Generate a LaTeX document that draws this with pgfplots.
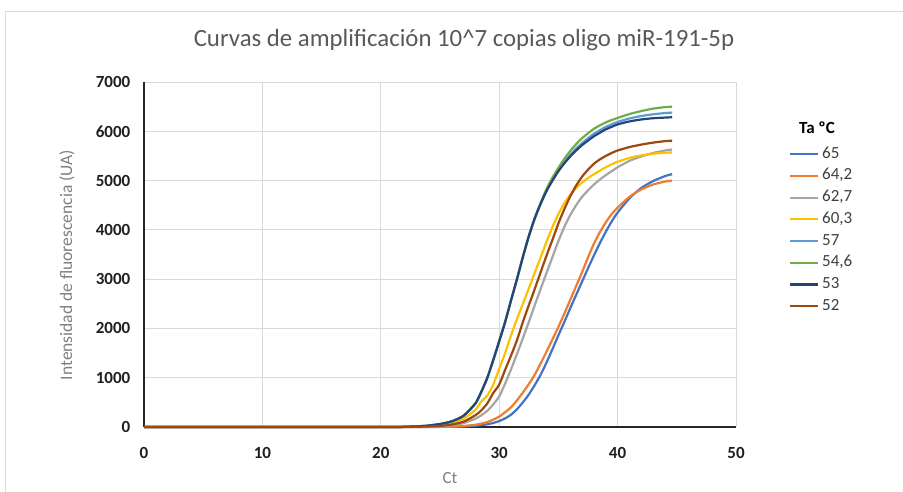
\documentclass[border=0pt]{standalone}
\usepackage{pgfplots}
\usepackage{pgfplotstable}
\pgfplotsset{compat=1.18}
\usepackage{fontspec}
\setmainfont{Carlito}
\definecolor{c65}{HTML}{4472C4}
\definecolor{c642}{HTML}{ED7D31}
\definecolor{c627}{HTML}{A5A5A5}
\definecolor{c603}{HTML}{FFC000}
\definecolor{c57}{HTML}{5B9BD5}
\definecolor{c546}{HTML}{70AD47}
\definecolor{c53}{HTML}{264478}
\definecolor{c52}{HTML}{9E480E}
\definecolor{gridc}{HTML}{D9D9D9}
\definecolor{framec}{HTML}{D9D9D9}
\definecolor{titlec}{HTML}{595959}
\definecolor{labelc}{HTML}{808080}
\definecolor{legc}{HTML}{404040}

\pgfplotstableread{
x    s65  s642 s627 s603 s57  s546 s53  s52
0    0    0    0    0    0    0    0    0
20   0    0    0    0    0    0    0    0
22   0    0    1    3    5    5    5    2
23   0    1    3    7    12   12   12   5
24   1    2    6    15   28   28   28   10
25   2    4    15   35   60   60   60   22
26   4    8    35   80   115  115  115  50
27   10   20   80   170  230  230  230  110
28   25   45   170  350  480  480  480  240
28.5 38   68   240  520  720  720  720  340
29   55   100  330  640  1000 1000 1000 480
29.5 82   150  460  860  1360 1360 1360 690
30   120  210  620  1180 1740 1740 1740 860
30.5 175  300  880  1500 2130 2130 2130 1160
31   250  400  1170 1860 2570 2570 2570 1450
31.5 360  540  1480 2190 3000 3000 3000 1760
32   500  700  1800 2500 3450 3450 3450 2130
32.5 660  870  2130 2810 3870 3870 3870 2470
33   850  1060 2470 3130 4230 4240 4230 2800
33.5 1060 1290 2800 3440 4530 4550 4530 3140
34   1310 1530 3130 3760 4800 4830 4790 3480
34.5 1580 1780 3450 4060 5010 5060 5000 3800
35   1860 2030 3770 4320 5210 5260 5190 4130
35.5 2130 2300 4060 4540 5380 5440 5350 4420
36   2410 2580 4300 4710 5520 5600 5490 4680
36.5 2680 2860 4500 4850 5650 5740 5610 4900
37   2950 3140 4670 4960 5760 5860 5720 5080
37.5 3220 3440 4800 5050 5860 5960 5810 5220
38   3480 3720 4920 5130 5950 6050 5900 5340
38.5 3730 3950 5020 5200 6020 6120 5970 5430
39   3960 4150 5110 5270 6090 6180 6040 5500
39.5 4170 4320 5190 5330 6140 6230 6090 5560
40   4350 4450 5270 5380 6190 6270 6140 5610
41   4640 4670 5400 5460 6260 6350 6200 5680
42   4850 4820 5490 5510 6310 6410 6240 5730
43   4990 4920 5560 5545 6345 6460 6265 5770
44   5090 4980 5610 5565 6370 6490 6278 5800
44.6 5130 5000 5630 5570 6380 6500 6285 5810
}\datatable

\begin{document}
\begin{tikzpicture}[x=1pt,y=1pt]
\useasboundingbox (0,0) rectangle (903,492);
\fill[white] (0,0) rectangle (903,492);
\draw[framec, line width=1pt] (5,0) -- (5,480) -- (903,480);
\begin{axis}[
  at={(144pt,65pt)}, anchor=south west,
  scale only axis, width=592pt, height=345pt,
  xmin=0, xmax=50, ymin=0, ymax=7000,
  xtick={0,10,...,50}, ytick={0,1000,...,7000},
  grid=major, major grid style={draw=gridc, line width=1pt},
  axis lines=left, axis line style={-, line width=1.6pt, draw=black!85},
  tick style={draw=none},
  /pgf/number format/assume math mode=true,
  /pgf/number format/1000 sep={},
  scaled y ticks=false,
  ticklabel style={font=\fontsize{17}{20}\selectfont\bfseries, text=black!88},
  xticklabel style={yshift=-15pt},
  yticklabel style={xshift=-8pt},
  legend style={at={(1.0895,0.8115)}, anchor=north west, draw=none, fill=none,
    font=\fontsize{17}{20}\selectfont, text=legc, inner sep=0pt,
    row sep=7.7pt, nodes={inner sep=0pt, text height=11pt, text depth=3pt},
    cells={anchor=west}},
  legend image code/.code={\draw[#1] (0pt,0pt) -- (28pt,0pt);},
  every axis plot/.append style={line width=2.2pt, smooth, tension=0.4},
  clip=false,
]
\addplot[c65]  table[x=x,y=s65]{\datatable};  \addlegendentry{\,65}
\addplot[c642] table[x=x,y=s642]{\datatable}; \addlegendentry{\,64,2}
\addplot[c627] table[x=x,y=s627]{\datatable}; \addlegendentry{\,62,7}
\addplot[c603] table[x=x,y=s603]{\datatable}; \addlegendentry{\,60,3}
\addplot[c57]  table[x=x,y=s57]{\datatable};  \addlegendentry{\,57}
\addplot[c546] table[x=x,y=s546]{\datatable}; \addlegendentry{\,54,6}
\addplot[c53]  table[x=x,y=s53]{\datatable};  \addlegendentry{\,53}
\addplot[c52]  table[x=x,y=s52]{\datatable};  \addlegendentry{\,52}
\end{axis}
\node[font=\fontsize{24.8}{29}\selectfont, text=titlec] at (464,452) {Curvas de amplificación 10\textasciicircum7 copias oligo miR-191-5p};
\node[rotate=90, font=\fontsize{17.5}{20}\selectfont, text=labelc] at (67,227) {Intensidad de fluorescencia (UA)};
\node[font=\fontsize{17}{20}\selectfont, text=labelc] at (450,14) {Ct};
\node[font=\fontsize{17}{20}\selectfont\bfseries, text=black] at (817,364) {Ta ºC};
\end{tikzpicture}
\end{document}
